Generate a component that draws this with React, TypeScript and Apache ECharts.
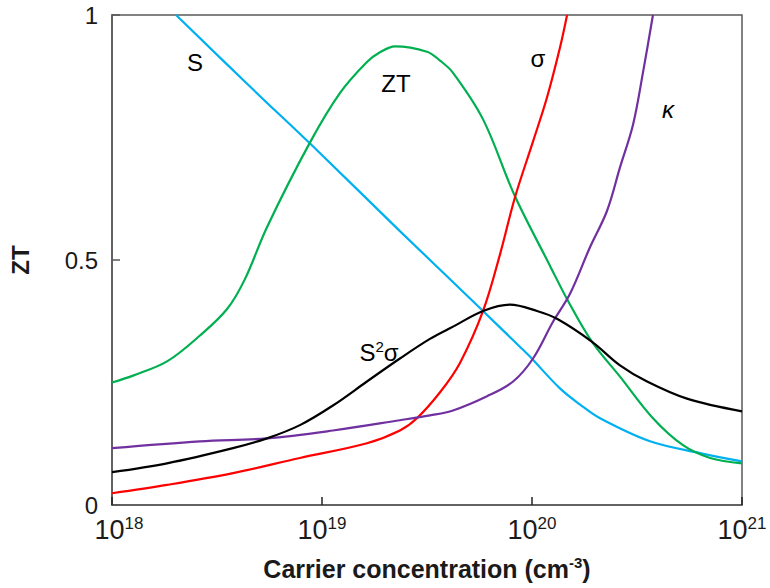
import React, { useEffect, useRef } from "react";
import * as echarts from "echarts";

// x values are log10 of carrier concentration (cm^-3); y values are on the ZT axis scale
const xTicks = [18, 19, 20, 21];
const yTicks = [0, 0.5, 1];

const sLogN = [18.305, 18.657, 18.981, 19.371, 19.752, 19.952, 19.99, 20.133, 20.229, 20.324, 20.562, 20.8, 21.0];
const sVals = [1.0, 0.854, 0.722, 0.559, 0.402, 0.319, 0.303, 0.238, 0.205, 0.177, 0.13, 0.106, 0.089];

const ztLogN = [18, 18.1, 18.262, 18.419, 18.548, 18.633, 18.738, 18.943, 19.086, 19.214, 19.276, 19.348, 19.5, 19.562, 19.624, 19.767, 19.919, 20.086, 20.171, 20.286, 20.419, 20.576, 20.719, 20.848, 21];
const ztVals = [0.25, 0.264, 0.293, 0.346, 0.4, 0.461, 0.567, 0.74, 0.841, 0.904, 0.924, 0.936, 0.925, 0.907, 0.882, 0.787, 0.63, 0.488, 0.417, 0.333, 0.262, 0.177, 0.122, 0.096, 0.085];

const sigmaLogN = [18, 18.262, 18.576, 18.895, 19.214, 19.371, 19.452, 19.562, 19.657, 19.767, 19.848, 19.919, 20.005, 20.071, 20.133, 20.167];
const sigmaVals = [0.024, 0.041, 0.065, 0.096, 0.126, 0.152, 0.177, 0.23, 0.29, 0.396, 0.512, 0.628, 0.742, 0.831, 0.933, 1.0];

const kappaLogN = [18, 18.419, 18.738, 19.052, 19.371, 19.514, 19.624, 19.786, 19.91, 20.005, 20.1, 20.181, 20.276, 20.357, 20.419, 20.481, 20.529, 20.576];
const kappaVals = [0.116, 0.13, 0.136, 0.152, 0.173, 0.183, 0.193, 0.222, 0.252, 0.299, 0.374, 0.431, 0.526, 0.6, 0.689, 0.776, 0.884, 1.0];

const pfLogN = [18, 18.262, 18.576, 18.738, 18.895, 19.052, 19.214, 19.371, 19.514, 19.624, 19.767, 19.895, 20.024, 20.119, 20.286, 20.419, 20.548, 20.738, 21];
const pfVals = [0.067, 0.085, 0.116, 0.136, 0.163, 0.203, 0.252, 0.299, 0.339, 0.364, 0.396, 0.409, 0.396, 0.38, 0.333, 0.285, 0.252, 0.217, 0.191];

const zip = (xs: number[], ys: number[]) => xs.map((x, i) => [x, ys[i]]);

const FONT = '"Liberation Sans", Arial, sans-serif';
const NARROW = '"Liberation Sans Narrow", "Liberation Sans", Arial, sans-serif';
const AXIS_COLOR = "#595959";

export default function App() {
  const ref = useRef<HTMLDivElement>(null);

  useEffect(() => {
    if (!ref.current) return;
    const chart = echarts.init(ref.current, undefined, { renderer: "svg" });

    const line = (name: string, data: number[][], color: string) => ({
      type: "line",
      name,
      data,
      showSymbol: false,
      smooth: 0.35,
      lineStyle: { color, width: 2.2 },
      itemStyle: { color },
      z: 3,
    });

    const labelStyle = (text: string, extra: any = {}) => ({
      text,
      fontSize: 24,
      fontFamily: FONT,
      fill: "#000",
      align: "center",
      verticalAlign: "middle",
      ...extra,
    });

    chart.setOption({
      animation: false,
      backgroundColor: "#fff",
      grid: {
        left: 112,
        right: 28,
        top: 15,
        bottom: 82,
        show: true,
        borderColor: AXIS_COLOR,
        borderWidth: 1.5,
      },
      xAxis: {
        type: "value",
        min: xTicks[0],
        max: xTicks[xTicks.length - 1],
        interval: 1,
        splitLine: { show: false },
        axisLine: { show: true, lineStyle: { color: AXIS_COLOR, width: 1.5 } },
        axisTick: { show: true, inside: true, length: 8, lineStyle: { color: "#222", width: 1.5 } },
        axisLabel: {
          margin: 10,
          formatter: (v: number) => (v === xTicks[0] ? `{p| }{b|10}{s|${v}}` : `{b|10}{s|${v}}`),
          rich: {
            p: { width: 14, fontSize: 10 },
            b: { fontFamily: NARROW, fontSize: 27, color: "#1a1a1a", lineHeight: 30 },
            s: { fontFamily: NARROW, fontSize: 17, color: "#1a1a1a", verticalAlign: "top" },
          },
        },
        name: "Carrier concentration (cm{sup|-3})",
        nameLocation: "middle",
        nameGap: 50,
        nameTextStyle: {
          fontFamily: NARROW,
          fontWeight: "bold",
          fontSize: 25,
          color: "#1a1a1a",
          lineHeight: 28,
          rich: {
            sup: { fontFamily: NARROW, fontWeight: "bold", fontSize: 15, color: "#1a1a1a", verticalAlign: "top" },
          },
        },
      },
      yAxis: {
        type: "value",
        min: yTicks[0],
        max: yTicks[yTicks.length - 1],
        interval: 0.5,
        splitLine: { show: false },
        axisLine: { show: true, lineStyle: { color: AXIS_COLOR, width: 1.5 } },
        axisTick: { show: true, inside: true, length: 8, lineStyle: { color: AXIS_COLOR, width: 1.5 } },
        axisLabel: {
          margin: 14,
          fontFamily: FONT,
          fontSize: 24,
          color: "#1a1a1a",
          formatter: (v: number) => String(v),
        },
        name: "ZT",
        nameLocation: "middle",
        nameGap: 80,
        nameTextStyle: { fontFamily: FONT, fontWeight: "bold", fontSize: 24, color: "#1a1a1a" },
      },
      series: [
        line("S", zip(sLogN, sVals), "#00b0f0"),
        line("ZT", zip(ztLogN, ztVals), "#00b050"),
        line("σ", zip(sigmaLogN, sigmaVals), "#ff0000"),
        line("κ", zip(kappaLogN, kappaVals), "#7030a0"),
        line("S²σ", zip(pfLogN, pfVals), "#000000"),
      ],
      graphic: [
        { type: "text", x: 195, y: 62, style: labelStyle("S") },
        { type: "text", x: 396, y: 83, style: labelStyle("ZT") },
        { type: "text", x: 538, y: 58, style: labelStyle("σ") },
        { type: "text", x: 668, y: 109, style: labelStyle("κ", { fontStyle: "italic" }) },
        {
          type: "text",
          x: 379,
          y: 352,
          style: {
            text: "{a|S}{b|2}{a|σ}",
            align: "center",
            verticalAlign: "middle",
            rich: {
              a: { fontSize: 24, fontFamily: FONT, fill: "#000", lineHeight: 26 },
              b: { fontSize: 15, fontFamily: FONT, fill: "#000", verticalAlign: "top" },
            },
          },
        },
      ],
    });

    return () => chart.dispose();
  }, []);

  return (
    <div
      ref={ref}
      style={{ position: "fixed", left: 0, top: 0, width: 770, height: 588, background: "#fff" }}
    />
  );
}
